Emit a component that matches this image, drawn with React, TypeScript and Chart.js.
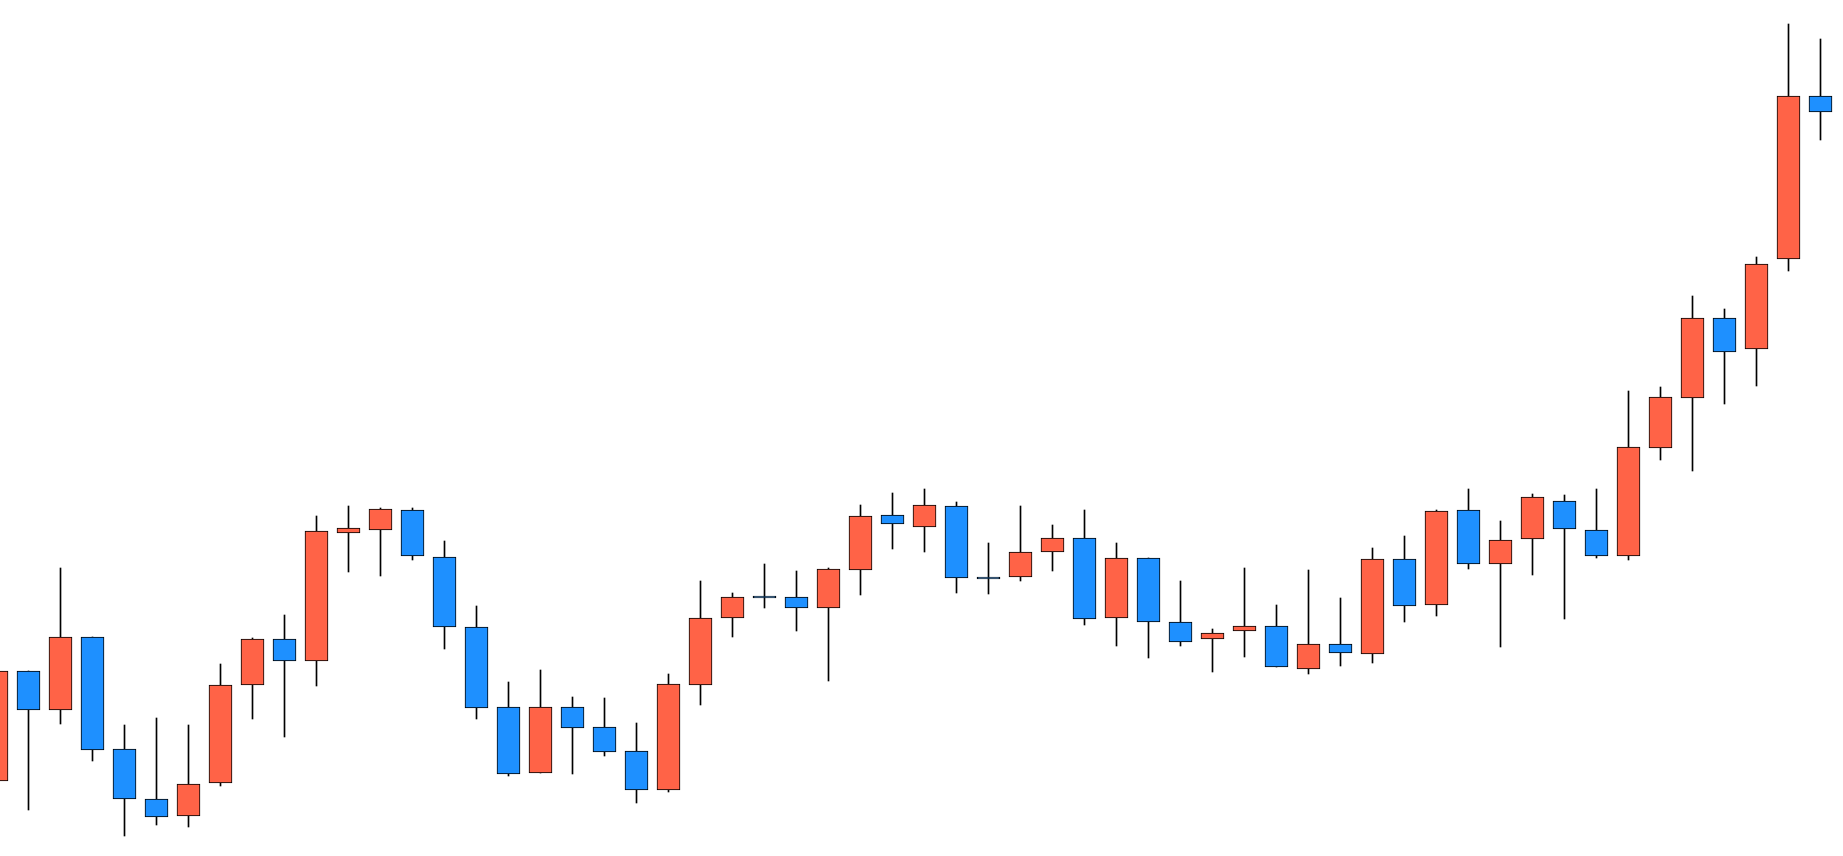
import React, { useEffect, useRef } from "react";
import { Chart, registerables } from "chart.js";

Chart.register(...registerables);

// OHLC values (arbitrary price units), one entry per session, left to right
const opens = [
  75, 185, 146, 219, 107, 57, 40, 73, 171, 217,
  195, 323, 326, 346, 299, 229, 149, 83, 149, 129,
  105, 66, 171, 238, 260, 259, 248, 286, 341, 329,
  350, 279, 279, 304, 318, 238, 298, 234, 217, 225,
  230, 187, 212, 202, 297, 251, 346, 292, 317, 355,
  326, 300, 408, 458, 538, 507, 597, 760,
];
const highs = [
  191, 185, 288, 219, 131, 138, 131, 192, 218, 241,
  340, 350, 348, 348, 315, 250, 174, 186, 159, 158,
  133, 182, 275, 263, 292, 285, 288, 351, 363, 367,
  354, 313, 350, 331, 346, 313, 298, 275, 227, 288,
  251, 286, 258, 308, 320, 346, 367, 335, 362, 361,
  367, 465, 469, 560, 547, 599, 832, 817,
];
const lows = [
  66, 46, 132, 95, 20, 31, 29, 70, 137, 119,
  170, 284, 280, 296, 207, 137, 80, 83, 82, 100,
  53, 64, 151, 219, 248, 225, 175, 261, 307, 304,
  263, 262, 275, 285, 231, 210, 198, 210, 184, 199,
  189, 182, 190, 193, 234, 240, 287, 209, 281, 237,
  298, 296, 396, 385, 452, 470, 585, 716,
];
const closes = [
  185, 146, 219, 106, 57, 39, 72, 171, 217, 195,
  325, 328, 347, 300, 229, 148, 82, 149, 128, 104,
  66, 172, 238, 259, 258, 248, 287, 340, 332, 351,
  278, 277, 304, 318, 237, 298, 234, 214, 223, 230,
  189, 212, 203, 297, 250, 345, 292, 316, 359, 327,
  300, 409, 459, 538, 504, 592, 760, 744,
];

const UP_COLOR = "#FF6347";
const DOWN_COLOR = "#1E90FF";

export default function App() {
  const canvasRef = useRef<HTMLCanvasElement | null>(null);

  useEffect(() => {
    document.body.style.margin = "0";
    const canvas = canvasRef.current;
    if (!canvas) return;

    const bodies = opens.map((o, i) => ({
      x: i,
      y: [Math.min(o, closes[i]), Math.max(o, closes[i])],
    }));
    const wicks = highs.map((h, i) => ({ x: i, y: [lows[i], h] }));
    const colors = opens.map((o, i) => (closes[i] >= o ? UP_COLOR : DOWN_COLOR));

    const chart = new Chart(canvas, {
      type: "bar",
      data: {
        datasets: [
          {
            label: "body",
            data: bodies as any,
            backgroundColor: colors,
            borderColor: "#000000",
            borderWidth: 1,
            borderSkipped: false,
            barThickness: 23,
            grouped: false,
            order: 0,
          } as any,
          {
            label: "wick",
            data: wicks as any,
            backgroundColor: "#000000",
            borderWidth: 0,
            barThickness: 1,
            grouped: false,
            order: 1,
          } as any,
        ],
      },
      options: {
        responsive: false,
        animation: false,
        layout: { padding: 0 },
        plugins: {
          legend: { display: false },
          tooltip: { enabled: false },
        },
        scales: {
          x: {
            type: "linear",
            display: false,
            offset: false,
            bounds: "data",
            min: 0.109375,
            max: 0.109375 + 1843 / 32,
            grid: { display: false, offset: false },
          },
          y: {
            type: "linear",
            display: false,
            bounds: "data",
            min: 0,
            max: 856,
            grid: { display: false },
          },
        },
      },
    });

    return () => chart.destroy();
  }, []);

  return (
    <div style={{ width: 1843, height: 856, background: "#ffffff" }}>
      <canvas
        ref={canvasRef}
        width={1843}
        height={856}
        style={{ display: "block", width: 1843, height: 856 }}
      />
    </div>
  );
}
